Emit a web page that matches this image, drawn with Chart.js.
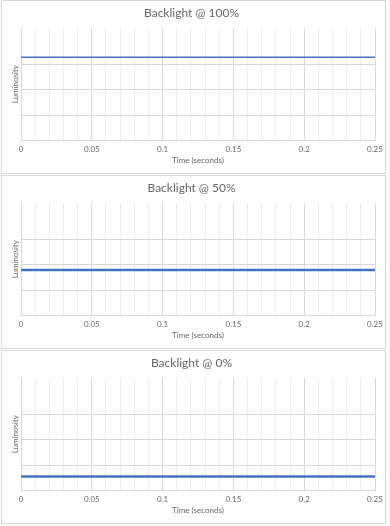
<!DOCTYPE html>
<html>
<head>
<meta charset="utf-8">
<script src="https://cdn.jsdelivr.net/npm/chart.js@4/dist/chart.umd.min.js"></script>
<style>
  html, body { margin: 0; padding: 0; background: #ffffff; }
  body { width: 390px; height: 526px; position: relative; overflow: hidden; }
  .panel { position: absolute; left: 1px; width: 383px; height: 172px; border: 1px solid #d9d9d9; background: #fff; }
  canvas { position: absolute; left: 0; }
</style>
</head>
<body>
<div class="panel" style="top:0px"></div>
<div class="panel" style="top:175px"></div>
<div class="panel" style="top:350px"></div>
<canvas id="c1" width="390" height="175" style="top:0px"></canvas>
<canvas id="c2" width="390" height="175" style="top:175px"></canvas>
<canvas id="c3" width="390" height="175" style="top:350px"></canvas>
<script>
// ---- data ----
const titles = ["Backlight @ 100%", "Backlight @ 50%", "Backlight @ 0%"];
const xTitle = "Time (seconds)";
const yTitle = "Luminosity";
const xMin = 0, xMax = 0.25, xStep = 0.01;
const yMin = 0, yMax = 4.43;
const times = [0, 0.01, 0.02, 0.03, 0.04, 0.05, 0.06, 0.07, 0.08, 0.09, 0.1, 0.11, 0.12,
               0.13, 0.14, 0.15, 0.16, 0.17, 0.18, 0.19, 0.2, 0.21, 0.22, 0.23, 0.24, 0.25];
const lum100 = [3.27, 3.275, 3.27, 3.27, 3.275, 3.27, 3.27, 3.27, 3.275, 3.27, 3.27, 3.275, 3.27,
                3.27, 3.275, 3.27, 3.27, 3.275, 3.27, 3.27, 3.27, 3.275, 3.27, 3.27, 3.275, 3.27];
const lum50 = [1.79, 1.79, 1.79, 1.79, 1.79, 1.79, 1.79, 1.79, 1.79, 1.79, 1.79, 1.79, 1.79,
               1.79, 1.79, 1.79, 1.79, 1.79, 1.79, 1.79, 1.79, 1.79, 1.79, 1.79, 1.79, 1.79];
const lum0 = [0.55, 0.55, 0.55, 0.55, 0.55, 0.55, 0.55, 0.55, 0.55, 0.55, 0.55, 0.55, 0.55,
              0.55, 0.55, 0.55, 0.55, 0.55, 0.55, 0.55, 0.55, 0.55, 0.55, 0.55, 0.55, 0.55];
const series = [lum100, lum50, lum0];
const lineWidths = [1.6, 2.6, 2.6];

const FONT = "Lato, 'Open Sans', sans-serif";
const TEXT = '#666666';

function isMajor(v) { return Math.round(v * 100) % 5 === 0; }

function make(id, title, values, lw) {
  new Chart(document.getElementById(id), {
    type: 'line',
    data: {
      datasets: [{
        data: times.map((t, i) => ({ x: t, y: values[i] })),
        borderColor: '#4472C4',
        borderWidth: lw,
        pointRadius: 0,
        tension: 0,
        fill: false
      }]
    },
    options: {
      responsive: false,
      animation: false,
      devicePixelRatio: 1,
      layout: { padding: { left: 8, right: 15, top: 0, bottom: 5 } },
      plugins: {
        legend: { display: false },
        tooltip: { enabled: false },
        title: {
          display: true,
          text: title,
          color: TEXT,
          font: { family: FONT, size: 12, weight: 'normal' },
          padding: { top: 5.8, bottom: 7.6 }
        }
      },
      scales: {
        x: {
          type: 'linear',
          min: xMin, max: xMax,
          afterFit: s => { s.height = 29.5; },
          border: { display: true, color: '#d9d9d9', width: 1 },
          grid: {
            drawTicks: false,
            color: ctx => isMajor(ctx.tick.value) ? '#d9d9d9' : '#eeeeee',
            lineWidth: 1
          },
          ticks: {
            stepSize: xStep,
            autoSkip: false,
            maxRotation: 0,
            padding: 4.5,
            color: TEXT,
            font: { family: FONT, size: 8 },
            callback: v => isMajor(v) ? String(Math.round(v * 100) / 100) : ''
          },
          title: {
            display: true, text: xTitle, color: TEXT,
            font: { family: FONT, size: 8 },
            padding: { top: 0, bottom: 4.5 }
          }
        },
        y: {
          type: 'linear',
          min: yMin, max: yMax,
          afterFit: s => { s.width = 13; },
          afterBuildTicks: s => { s.ticks = s.ticks.filter(t => Number.isInteger(t.value)); },
          border: { display: false },
          grid: { drawTicks: false, color: '#d9d9d9', lineWidth: 1 },
          ticks: { display: false, stepSize: 1 },
          title: {
            display: true, text: yTitle, color: TEXT,
            font: { family: FONT, size: 8 },
            padding: { top: 3, bottom: 0 }
          }
        }
      }
    }
  });
}

make('c1', titles[0], series[0], lineWidths[0]);
make('c2', titles[1], series[1], lineWidths[1]);
make('c3', titles[2], series[2], lineWidths[2]);
</script>
</body>
</html>
